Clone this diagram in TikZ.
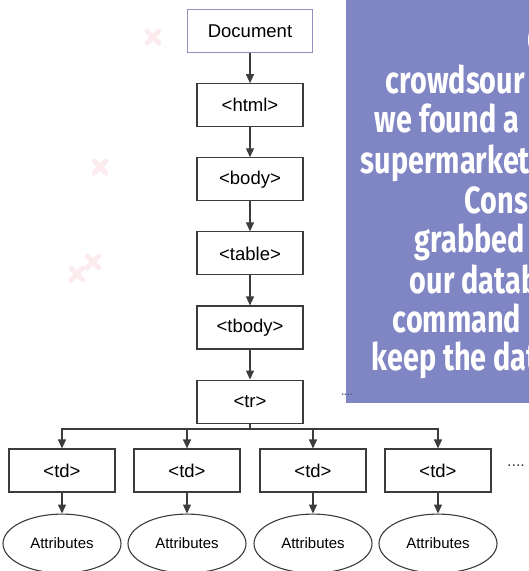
\documentclass[tikz,border=0pt]{standalone}
\usepackage{fontspec}
\setmainfont{Liberation Sans}
\newfontfamily\bannerfont{Fira Sans}
\usetikzlibrary{positioning, arrows.meta, shapes.geometric}

\definecolor{bannerblue}{RGB}{128,134,196}
\definecolor{docframe}{RGB}{150,140,190}
\definecolor{linegray}{RGB}{60,60,60}
\definecolor{markpink}{RGB}{253,236,239}
\definecolor{dotblue}{RGB}{90,96,150}

\begin{document}
\begin{tikzpicture}[block/.style={rectangle,draw=linegray,line width=1.1pt,minimum width=106pt,minimum height=43pt,inner sep=0pt,font=\fontsize{18.5}{21}\selectfont},
  attr/.style={ellipse,draw=linegray,line width=1.1pt,minimum width=118pt,minimum height=59pt,inner sep=0pt,font=\fontsize{15}{17}\selectfont},
  arr/.style={-{Triangle[length=9pt,width=8pt]},linegray,line width=1.1pt},
  banner/.style={white,anchor=base west,xscale=0.8,yscale=1.05,transform shape,font=\bannerfont\bfseries\fontsize{36}{40}\selectfont},
  node distance=30pt]
\useasboundingbox (0,0) rectangle (529pt,-571pt);

% faint marks in the background
\foreach \x/\y in {153/37,100/167,93/262,77/274}
  \draw[markpink, line width=5pt, line cap=round] (\x pt-6pt,\y pt*-1+6pt) -- (\x pt+6pt,\y pt*-1-6pt) (\x pt-6pt,\y pt*-1-6pt) -- (\x pt+6pt,\y pt*-1+6pt);

\node (doc) [block,draw=docframe,line width=1.3pt,minimum width=125pt] at (250pt,-31pt) {Document};
\node (html) [block,below=of doc] {<html>};
\node (body) [block,below=of html] {<body>};
\node (table) [block,below=of body] {<table>};
\node (tbody) [block,below=of table] {<tbody>};
\node (tr) [block,below=of tbody] {<tr>};
\coordinate (fork) at (250pt,-429pt);

\node (td1) [block] at (62pt,-470.5pt) {<td>};
\node (td2) [block] at (187pt,-470.5pt) {<td>};
\node (td3) [block] at (313pt,-470.5pt) {<td>};
\node (td4) [block] at (438pt,-470.5pt) {<td>};
\node (moretd) [linegray,font=\fontsize{16}{16}\selectfont] at (516pt,-466pt) {....};

\foreach \i in {1,...,4}
  \node (attr\i) [attr,below=21pt of td\i] {Attributes};

\draw [arr] (doc) -- (html);
\draw [arr] (html) -- (body);
\draw [arr] (body) -- (table);
\draw [arr] (table) -- (tbody);
\draw [arr] (tbody) -- (tr);
\draw [linegray,line width=1.1pt] (tr) -- (fork);
\foreach \i in {1,...,4} {
  \draw [arr] (fork) -| (td\i);
  \draw [arr] (td\i) -- (attr\i);
}

% overlay panel
\fill [bannerblue] (346pt,0) rectangle (529pt,-403pt);
\node (moretr) [dotblue,font=\bfseries\fontsize{10}{10}\selectfont] at (347pt,-395pt) {....};
\begin{scope}
  \clip (346pt,0) rectangle (529pt,-403pt);
  \node (l0) [banner] at (525pt,-53pt) {C};
  \node (l1) [banner] at (383pt,-93pt) {crowdsour};
  \node (l2) [banner] at (372pt,-132pt) {we found a};
  \node (l3) [banner] at (358pt,-173pt) {supermarket};
  \node (l4) [banner] at (462pt,-213pt) {Consu};
  \node (l5) [banner] at (412pt,-252pt) {grabbed};
  \node (l6) [banner] at (407pt,-293pt) {our datab};
  \node (l7) [banner] at (390pt,-332pt) {command};
  \node (l8) [banner] at (369pt,-370pt) {keep the dat};
\end{scope}
\end{tikzpicture}
\end{document}
